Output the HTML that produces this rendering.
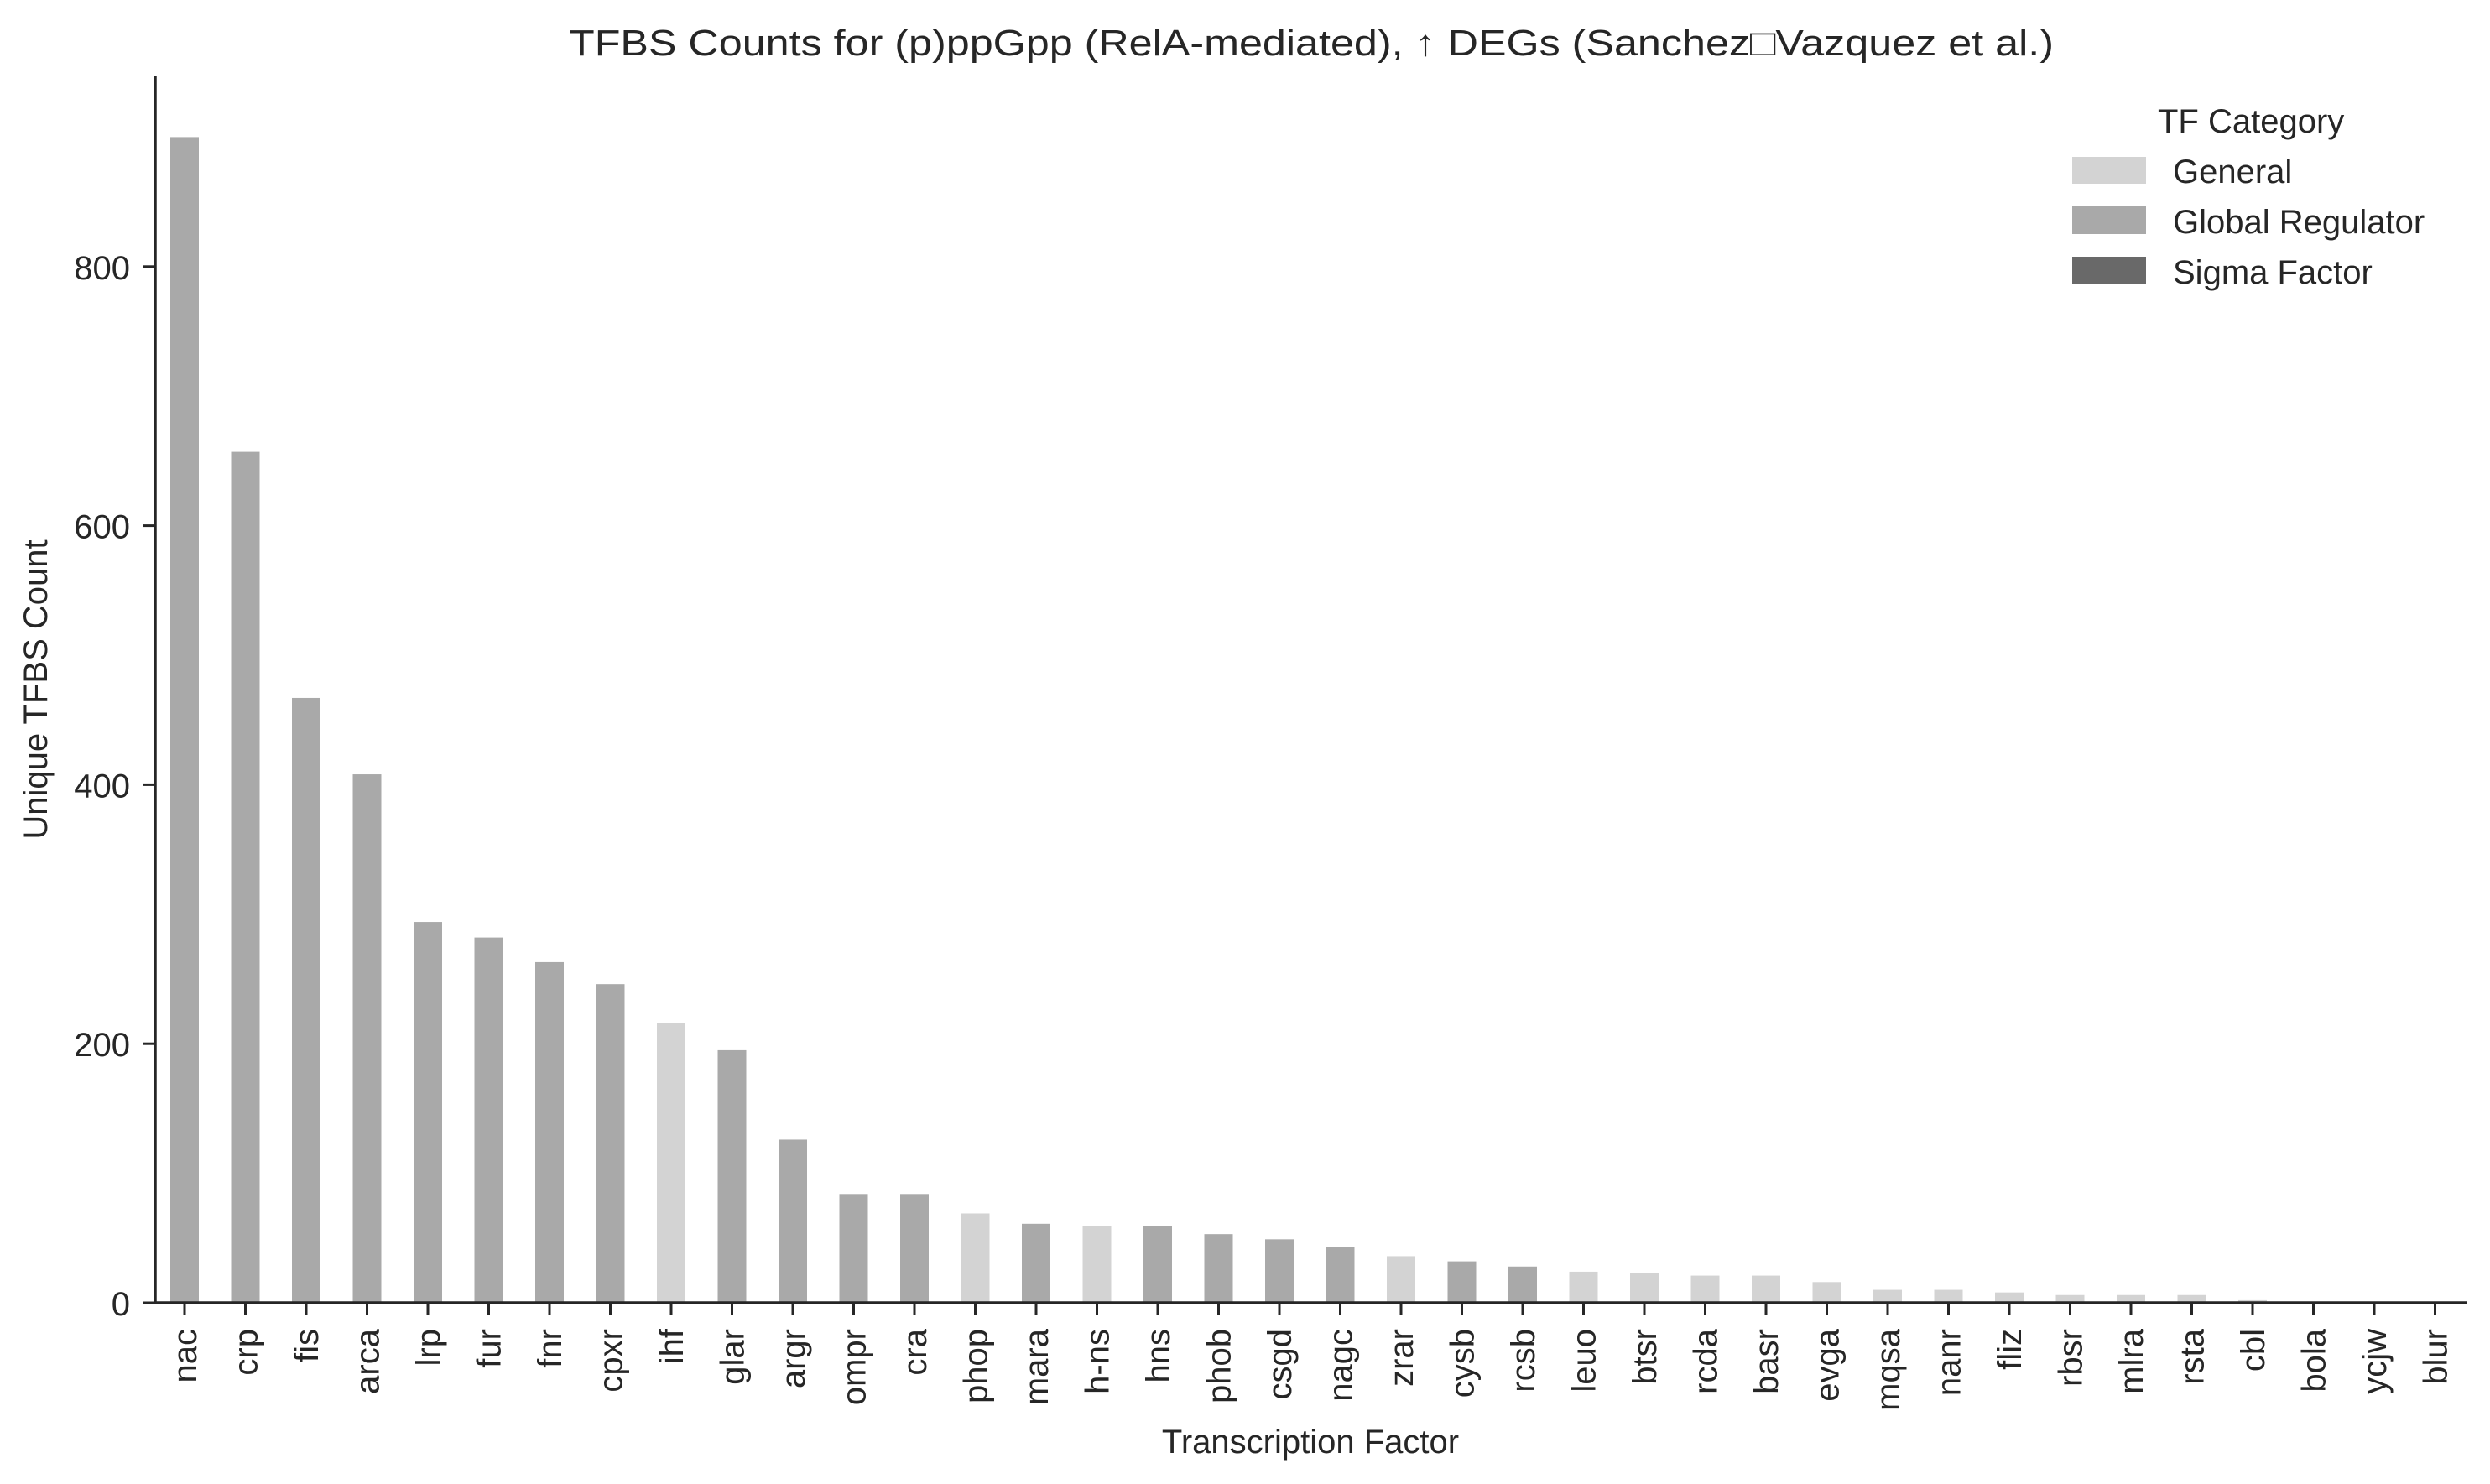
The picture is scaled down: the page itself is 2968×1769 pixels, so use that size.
<!DOCTYPE html>
<html><head><meta charset="utf-8"><style>
html,body{margin:0;padding:0;background:#fff;}
svg{display:block;font-family:"Liberation Sans","DejaVu Sans",sans-serif;}
</style></head><body>
<svg id="chart" width="2968" height="1769" viewBox="0 0 2968 1769" xmlns="http://www.w3.org/2000/svg">
<text x="1563" y="66" text-anchor="middle" font-size="44" fill="#262626" textLength="1770" lengthAdjust="spacingAndGlyphs">TFBS Counts for (p)ppGpp (RelA-mediated), ↑ DEGs (Sanchez□Vazquez et al.)</text>
<g id="bars"></g>
<g id="yaxis"></g>
<g id="xaxis"></g>
<line x1="185" y1="90" x2="185" y2="1555" stroke="#262626" stroke-width="3.5"/>
<line x1="183" y1="1553" x2="2940" y2="1553" stroke="#262626" stroke-width="3.5"/>
<text transform="translate(56,822) rotate(-90)" text-anchor="middle" font-size="40" fill="#262626">Unique TFBS Count</text>
<text x="1562" y="1732" text-anchor="middle" font-size="40" fill="#262626">Transcription Factor</text>
<g>
<text x="2572" y="158" font-size="40" fill="#262626">TF Category</text>
<rect x="2470" y="187" width="88" height="32" fill="#d3d3d3"/>
<text x="2590" y="218" font-size="40" fill="#262626">General</text>
<rect x="2470" y="246" width="88" height="33" fill="#a9a9a9"/>
<text x="2590" y="278" font-size="40" fill="#262626">Global Regulator</text>
<rect x="2470" y="306" width="88" height="33" fill="#696969"/>
<text x="2590" y="338" font-size="40" fill="#262626">Sigma Factor</text>
</g>
</svg>
<script>
const categories = ["nac","crp","fis","arca","lrp","fur","fnr","cpxr","ihf","glar","argr","ompr","cra","phop","mara","h-ns","hns","phob","csgd","nagc","zrar","cysb","rcsb","leuo","btsr","rcda","basr","evga","mqsa","nanr","fliz","rbsr","mlra","rsta","cbl","bola","ycjw","blur"];
const counts = [900,657,467,408,294,282,263,246,216,195,126,84,84,69,61,59,59,53,49,43,36,32,28,24,23,21,21,16,10,10,8,6,6,6,2,0,0,0];
const groups = ["G","G","G","G","G","G","G","G","N","G","G","G","G","N","G","N","G","G","G","G","N","G","G","N","N","N","N","N","N","N","N","N","N","N","N","N","N","N"];
const yTicks = [0,200,400,600,800];
const colorFor = {N:"#d3d3d3", G:"#a9a9a9", S:"#696969"};
const NS = "http://www.w3.org/2000/svg";
const x = i => 220 + i * 72.5;
const y = v => 1553 - v * 1.544;
const bw = 34;
const bars = document.getElementById("bars");
const xa = document.getElementById("xaxis");
const ya = document.getElementById("yaxis");
categories.forEach((c, i) => {
  const r = document.createElementNS(NS, "rect");
  r.setAttribute("x", x(i) - bw / 2);
  r.setAttribute("y", y(counts[i]));
  r.setAttribute("width", bw);
  r.setAttribute("height", Math.max(0, 1553 - y(counts[i])));
  r.setAttribute("fill", colorFor[groups[i]]);
  
  
  bars.appendChild(r);
  const t = document.createElementNS(NS, "line");
  t.setAttribute("x1", x(i)); t.setAttribute("x2", x(i));
  t.setAttribute("y1", 1553); t.setAttribute("y2", 1568);
  t.setAttribute("stroke", "#262626"); t.setAttribute("stroke-width", "3");
  
  
  xa.appendChild(t);
  const l = document.createElementNS(NS, "text");
  l.setAttribute("transform", "translate(" + (x(i) + 14) + ",1584) rotate(-90)");
  l.setAttribute("text-anchor", "end");
  l.setAttribute("font-size", "40");
  l.setAttribute("fill", "#262626");
  l.textContent = c;
  
  
  xa.appendChild(l);
});
yTicks.forEach(v => {
  const t = document.createElementNS(NS, "line");
  t.setAttribute("x1", 170); t.setAttribute("x2", 185);
  t.setAttribute("y1", y(v)); t.setAttribute("y2", y(v));
  t.setAttribute("stroke", "#262626"); t.setAttribute("stroke-width", "3");
  
  
  ya.appendChild(t);
  const l = document.createElementNS(NS, "text");
  l.setAttribute("x", 155);
  l.setAttribute("y", y(v) + 15);
  l.setAttribute("text-anchor", "end");
  l.setAttribute("font-size", "40");
  l.setAttribute("fill", "#262626");
  l.textContent = v;
  
  
  ya.appendChild(l);
});
</script>
</body></html>
